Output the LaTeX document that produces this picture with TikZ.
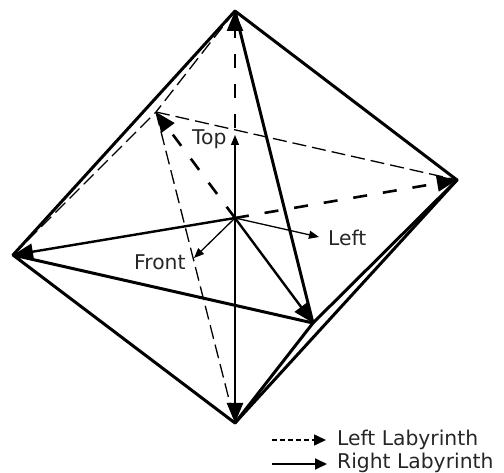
\documentclass[tikz,border=0pt]{standalone}
\usepackage{fontspec}
\setmainfont{DejaVu Sans}
\usetikzlibrary{arrows.meta}
\tikzset{
  edge/.style={line width=3pt,line cap=round,line join=round},
  backedge/.style={line width=1.3pt,dash pattern=on 14pt off 6pt},
  thicktip/.style={-{Triangle[length=20pt,width=16pt]}},
  leftarrow/.style={line width=2.6pt,dash pattern=on 14pt off 16pt,thicktip},
  rightarrow/.style={line width=2.4pt,thicktip},
  axisarrow/.style={line width=1.3pt,-{Triangle[length=10pt,width=8pt]}},
  lab/.style={font=\fontsize{20.3pt}{22pt}\selectfont,text=black!85,inner sep=0pt},
  legenddash/.style={line width=1.5pt,dash pattern=on 5pt off 3pt,-{Triangle[length=12pt,width=11pt]}},
  legendsolid/.style={line width=1.8pt,-{Triangle[length=12pt,width=11pt]}}
}
\begin{document}
\begin{tikzpicture}[x=1pt,y=-1pt]
\useasboundingbox (0,0) rectangle (504,473);
\coordinate (T) at (235,11);
\coordinate (R) at (457,180);
\coordinate (L) at (13,255);
\coordinate (B) at (235,423);
\coordinate (P) at (156,112);
\coordinate (Q) at (313,323);
\coordinate (C) at (235,218);
\coordinate (AT) at (235,135);
\coordinate (AF) at (194,258);
\coordinate (AL) at (319,237);
\coordinate (D1) at (272,440);
\coordinate (D2) at (326,440);
\coordinate (S1) at (272,464);
\coordinate (S2) at (327,464);
% back edges
\draw[backedge] (T) -- (P);
\draw[backedge] (L) -- (P);
\draw[backedge] (P) -- (R);
\draw[backedge] (P) -- (B);
% front edges
\draw[edge] (L) -- (T) -- (R) -- (B) -- (L) -- (Q) -- (T);
\draw[edge] (R) -- (Q) -- (B);
% labyrinth arrows
\draw[leftarrow] (C) -- (T);
\draw[leftarrow] (C) -- (P);
\draw[leftarrow] (C) -- (R);
\draw[rightarrow] (C) -- (L);
\draw[rightarrow] (C) -- (B);
\draw[rightarrow] (C) -- (Q);
% axes
\draw[axisarrow] (C) -- (AT);
\draw[axisarrow] (C) -- (AF);
\draw[axisarrow] (C) -- (AL);
\node[lab,anchor=west] (top) at (192,139) {Top};
\node[lab,anchor=west] (front) at (134,262) {Front};
\node[lab,anchor=west] (left) at (328,238) {Left};
% legend
\draw[legenddash] (D1) -- (D2);
\draw[legendsolid] (S1) -- (S2);
\node[lab,anchor=west] (l1) at (337,440) {Left Labyrinth};
\node[lab,anchor=west] (l2) at (337,463) {Right Labyrinth};
\end{tikzpicture}
\end{document}
